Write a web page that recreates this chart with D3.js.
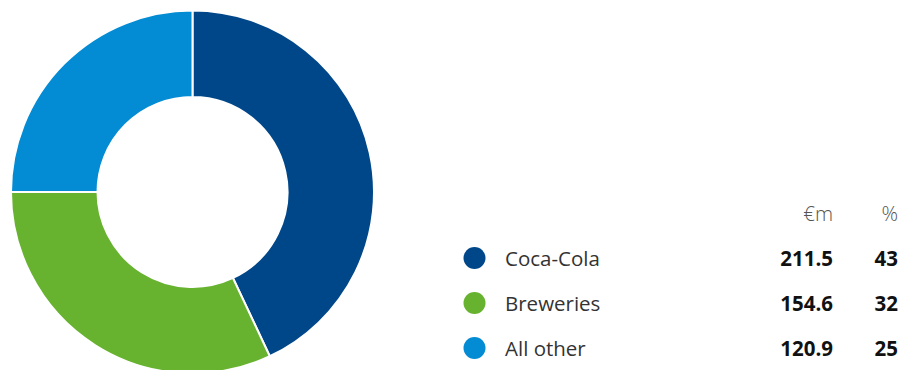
<!DOCTYPE html>
<html lang="en">
<head>
<meta charset="UTF-8">
<title>Donut</title>
<style>
body { margin: 0; background: #fff; }
text { font-family: "Open Sans", sans-serif; }
</style>
</head>
<body>
<script src="https://cdn.jsdelivr.net/npm/d3@7"></script>
<script>
var categories = ["Coca-Cola", "Breweries", "All other"];
var values = [211.5, 154.6, 120.9];
var percents = [43, 32, 25];
var colors = ["#004789", "#67b22f", "#038bd3"];
var headers = ["€m", "%"];

var width = 904, height = 370;
var cx = 192.5, cy = 192, outerR = 181.5, innerR = 95;
var fs = 20.5;

var svg = d3.select("body").append("svg")
    .attr("width", width)
    .attr("height", height);

var data = categories.map(function(c, i) {
    return { name: c, value: values[i], pct: percents[i], color: colors[i] };
});

// slice sizes follow the rounded percentages
var pie = d3.pie().sort(null).value(function(d) { return d.pct; });
var arc = d3.arc().innerRadius(innerR).outerRadius(outerR);

svg.append("g")
    .attr("transform", "translate(" + cx + "," + cy + ")")
    .selectAll("path")
    .data(pie(data))
    .enter().append("path")
    .attr("d", arc)
    .attr("fill", function(d) { return d.data.color; })
    .attr("stroke", "#fff")
    .attr("stroke-width", 2);

// legend table
var y = d3.scalePoint().domain(categories).range([258, 348]);
var colVal = 833, colPct = 898;

svg.append("text").attr("x", colVal).attr("y", 221)
    .attr("text-anchor", "end").attr("font-size", fs)
    .attr("fill", "#555").attr("font-weight", 300).text(headers[0]);
svg.append("text").attr("x", colPct).attr("y", 221)
    .attr("text-anchor", "end").attr("font-size", fs)
    .attr("fill", "#555").attr("font-weight", 300).text(headers[1]);

var rows = svg.selectAll("g.row").data(data).enter().append("g")
    .attr("class", "row")
    .attr("transform", function(d) { return "translate(0," + y(d.name) + ")"; });

rows.append("circle").attr("cx", 474.5).attr("cy", 0).attr("r", 11)
    .attr("fill", function(d) { return d.color; });

rows.append("text").attr("x", 505).attr("y", 8)
    .attr("font-size", fs).attr("fill", "#333")
    .text(function(d) { return d.name; });

rows.append("text").attr("x", colVal).attr("y", 8)
    .attr("text-anchor", "end").attr("font-size", fs).attr("font-weight", 700)
    .attr("fill", "#111")
    .text(function(d) { return d3.format(".1f")(d.value); });

rows.append("text").attr("x", colPct).attr("y", 8)
    .attr("text-anchor", "end").attr("font-size", fs).attr("font-weight", 700)
    .attr("fill", "#111")
    .text(function(d) { return d.pct; });
</script>
</body>
</html>
